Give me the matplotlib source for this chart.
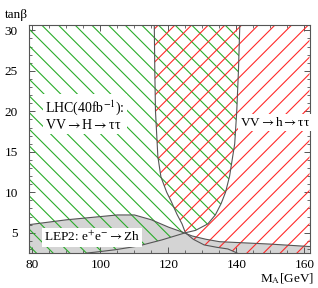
import matplotlib
matplotlib.use("Agg")
import matplotlib.pyplot as plt
from matplotlib.ticker import MultipleLocator

plt.rcParams['font.family'] = ['Liberation Serif', 'DejaVu Serif']
plt.rcParams['mathtext.fontset'] = 'stix'
plt.rcParams['hatch.linewidth'] = 0.8

# ---- data ----
# right edge of the LHC VV->H->tautau region (green)
tanb_H = [2.5, 2.6, 2.9, 3.35, 4.12, 5.0, 5.3, 6.1, 7.2, 8.6, 10.0, 12.0, 16.0, 20.0, 25.0, 30.6]
ma_H = [96.0, 98.4, 104.3, 111.0, 118.1, 125.0, 128.0, 131.6, 133.8, 135.5, 136.8, 138.0, 139.5, 140.1, 140.6, 141.0]
# left edge of the LHC VV->h->tautau region (red)
tanb_h = [2.5, 3.0, 3.2, 3.5, 4.2, 5.0, 6.1, 7.3, 8.9, 10.0, 11.9, 14.4, 20.0, 25.0, 30.6]
ma_h = [140.2, 137.5, 134.3, 130.5, 127.3, 125.0, 124.0, 122.5, 120.8, 119.5, 117.8, 116.9, 116.2, 116.0, 115.85]
# LEP2 excluded region upper boundary (grey)
ma_lep = [79.0, 90.0, 100.0, 105.0, 110.0, 115.0, 120.0, 124.0, 127.0, 131.0, 135.0, 140.0, 150.0, 161.5]
tanb_lep = [6.0, 6.6, 7.0, 7.2, 7.2, 6.6, 5.7, 5.1, 4.6, 4.2, 3.9, 3.8, 3.6, 3.3]

xlim = (79.0, 161.5)
ylim = (2.5, 30.6)
xticks = [80, 100, 120, 140, 160]
yticks = [5, 10, 15, 20, 25, 30]

green = '#2aad2a'
red = '#ff2a2a'
line_c = '#555555'

fig = plt.figure(figsize=(3.18, 2.88), dpi=100)
ax = fig.add_axes([0.0912, 0.1215, 0.8821, 0.79])

# LEP2 grey region
ax.fill_between(ma_lep, tanb_lep, ylim[0], facecolor='#d4d4d4', edgecolor='none', zorder=1)
ax.plot(ma_lep, tanb_lep, color=line_c, lw=0.8, zorder=4)

# green hatched region (left of H curve)
ax.fill_betweenx(tanb_H, xlim[0], ma_H, facecolor='none', edgecolor=green,
                 hatch='\\\\', linewidth=0, zorder=2)
# red hatched region (right of h curve)
ax.fill_betweenx(tanb_h, ma_h, xlim[1], facecolor='none', edgecolor=red,
                 hatch='//', linewidth=0, zorder=2)

ax.plot(ma_H, tanb_H, color=line_c, lw=0.8, zorder=4)
ax.plot(ma_h, tanb_h, color=line_c, lw=0.8, zorder=4)

ax.set_xlim(*xlim)
ax.set_ylim(*ylim)
ax.set_xticks(xticks)
ax.set_yticks(yticks)
ax.xaxis.set_minor_locator(MultipleLocator(5))
ax.yaxis.set_minor_locator(MultipleLocator(1))
ax.tick_params(which='both', direction='in', top=True, right=True, color=line_c,
               labelsize=9.5)
ax.tick_params(which='major', length=4, width=0.7)
ax.tick_params(which='minor', length=2, width=0.6)
ax.tick_params(axis='y', pad=8)
ax.tick_params(axis='x', pad=4)
for s in ax.spines.values():
    s.set_color(line_c)
    s.set_linewidth(0.8)

box = dict(facecolor='white', edgecolor='none', pad=1.5)
arr = r"$\rightarrow$"
ax.text(83.8, 19.55, "LHC(40fb$^{-1}$):\nVV" + arr + "H" + arr + "ττ", fontsize=10,
        ha='left', va='center', linespacing=1.1, bbox=box, zorder=6)
ax.text(141.0, 18.6, "VV" + arr + "h" + arr + "ττ", fontsize=9.5, ha='left', va='center',
        bbox=box, zorder=6)
ax.text(83.3, 4.45, "LEP2: e$^{+}$e$^{-}$" + arr + "Zh", fontsize=9.5, ha='left', va='center',
        bbox=box, zorder=6)

fig.text(5 / 318, 1 - 15 / 288, "tanβ", fontsize=9.5, ha='left', va='center')
fig.text(314 / 318, 1 - 279 / 288, "M$_\\mathrm{A}$[GeV]", fontsize=9.5, ha='right', va='center')

fig.savefig('out.png', dpi=100)
